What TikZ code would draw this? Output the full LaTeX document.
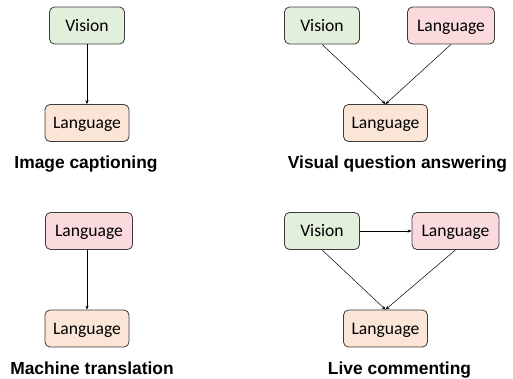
\documentclass[tikz,border=0pt]{standalone}
\usepackage{fontspec}
\setmainfont{Carlito}
\newfontfamily\labelfont{Liberation Sans}
\usetikzlibrary{arrows.meta}
\definecolor{visgreen}{HTML}{E2EFDA}
\definecolor{langred}{HTML}{FADADD}
\definecolor{langorange}{HTML}{FBE5D6}
\definecolor{boxline}{HTML}{3A3A3A}
\tikzset{
  box/.style={draw=boxline, line width=0.8pt, rounded corners=5pt, inner sep=0pt,
    font=\fontsize{17.6}{19}\selectfont, text height=11.3pt, text depth=0pt,
    minimum height=37pt},
  visbox/.style={box, fill=visgreen, minimum width=75pt},
  langin/.style={box, fill=langred, minimum width=87pt},
  langout/.style={box, fill=langorange, minimum width=84pt},
  caption/.style={font=\labelfont\bfseries\fontsize{17.4}{19}\selectfont, inner sep=0pt,
    text height=12.5pt, text depth=0pt},
  conn/.style={draw=black, line width=0.5pt, -{Stealth[length=4pt,width=3.2pt]}}
}
\begin{document}
\begin{tikzpicture}[x=1pt,y=-1pt]
\useasboundingbox (0,0) rectangle (513,379);
% Image captioning
\node[visbox] (ic-v) at (87,25.5) {Vision};
\node[langout] (ic-l) at (87,123) {Language};
\node[caption] (ic-c) at (86,162) {Image captioning};
\draw[conn] (ic-v.south) -- (ic-l.north);
% Visual question answering
\node[visbox] (vqa-v) at (322,25.5) {Vision};
\node[langin] (vqa-q) at (451,25.5) {Language};
\node[langout] (vqa-l) at (385.5,123) {Language};
\node[caption] (vqa-c) at (397.5,162) {Visual question answering};
\draw[conn] (vqa-v.south) -- (vqa-l.north);
\draw[conn] (vqa-q.south) -- (vqa-l.north);
% Machine translation
\node[langin] (mt-s) at (89,231) {Language};
\node[langout] (mt-l) at (87,328.5) {Language};
\node[caption] (mt-c) at (92,368) {Machine translation};
\draw[conn] (mt-s.south -| mt-l.north) -- (mt-l.north);
% Live commenting
\node[visbox] (lc-v) at (322,231) {Vision};
\node[langin] (lc-q) at (455.5,231) {Language};
\node[langout] (lc-l) at (385.5,328.5) {Language};
\node[caption] (lc-c) at (399.5,368) {Live commenting};
\draw[conn] (lc-v.east) -- (lc-q.west);
\draw[conn] (lc-v.south) -- (lc-l.north);
\draw[conn] (lc-q.south) -- (lc-l.north);
\end{tikzpicture}
\end{document}
